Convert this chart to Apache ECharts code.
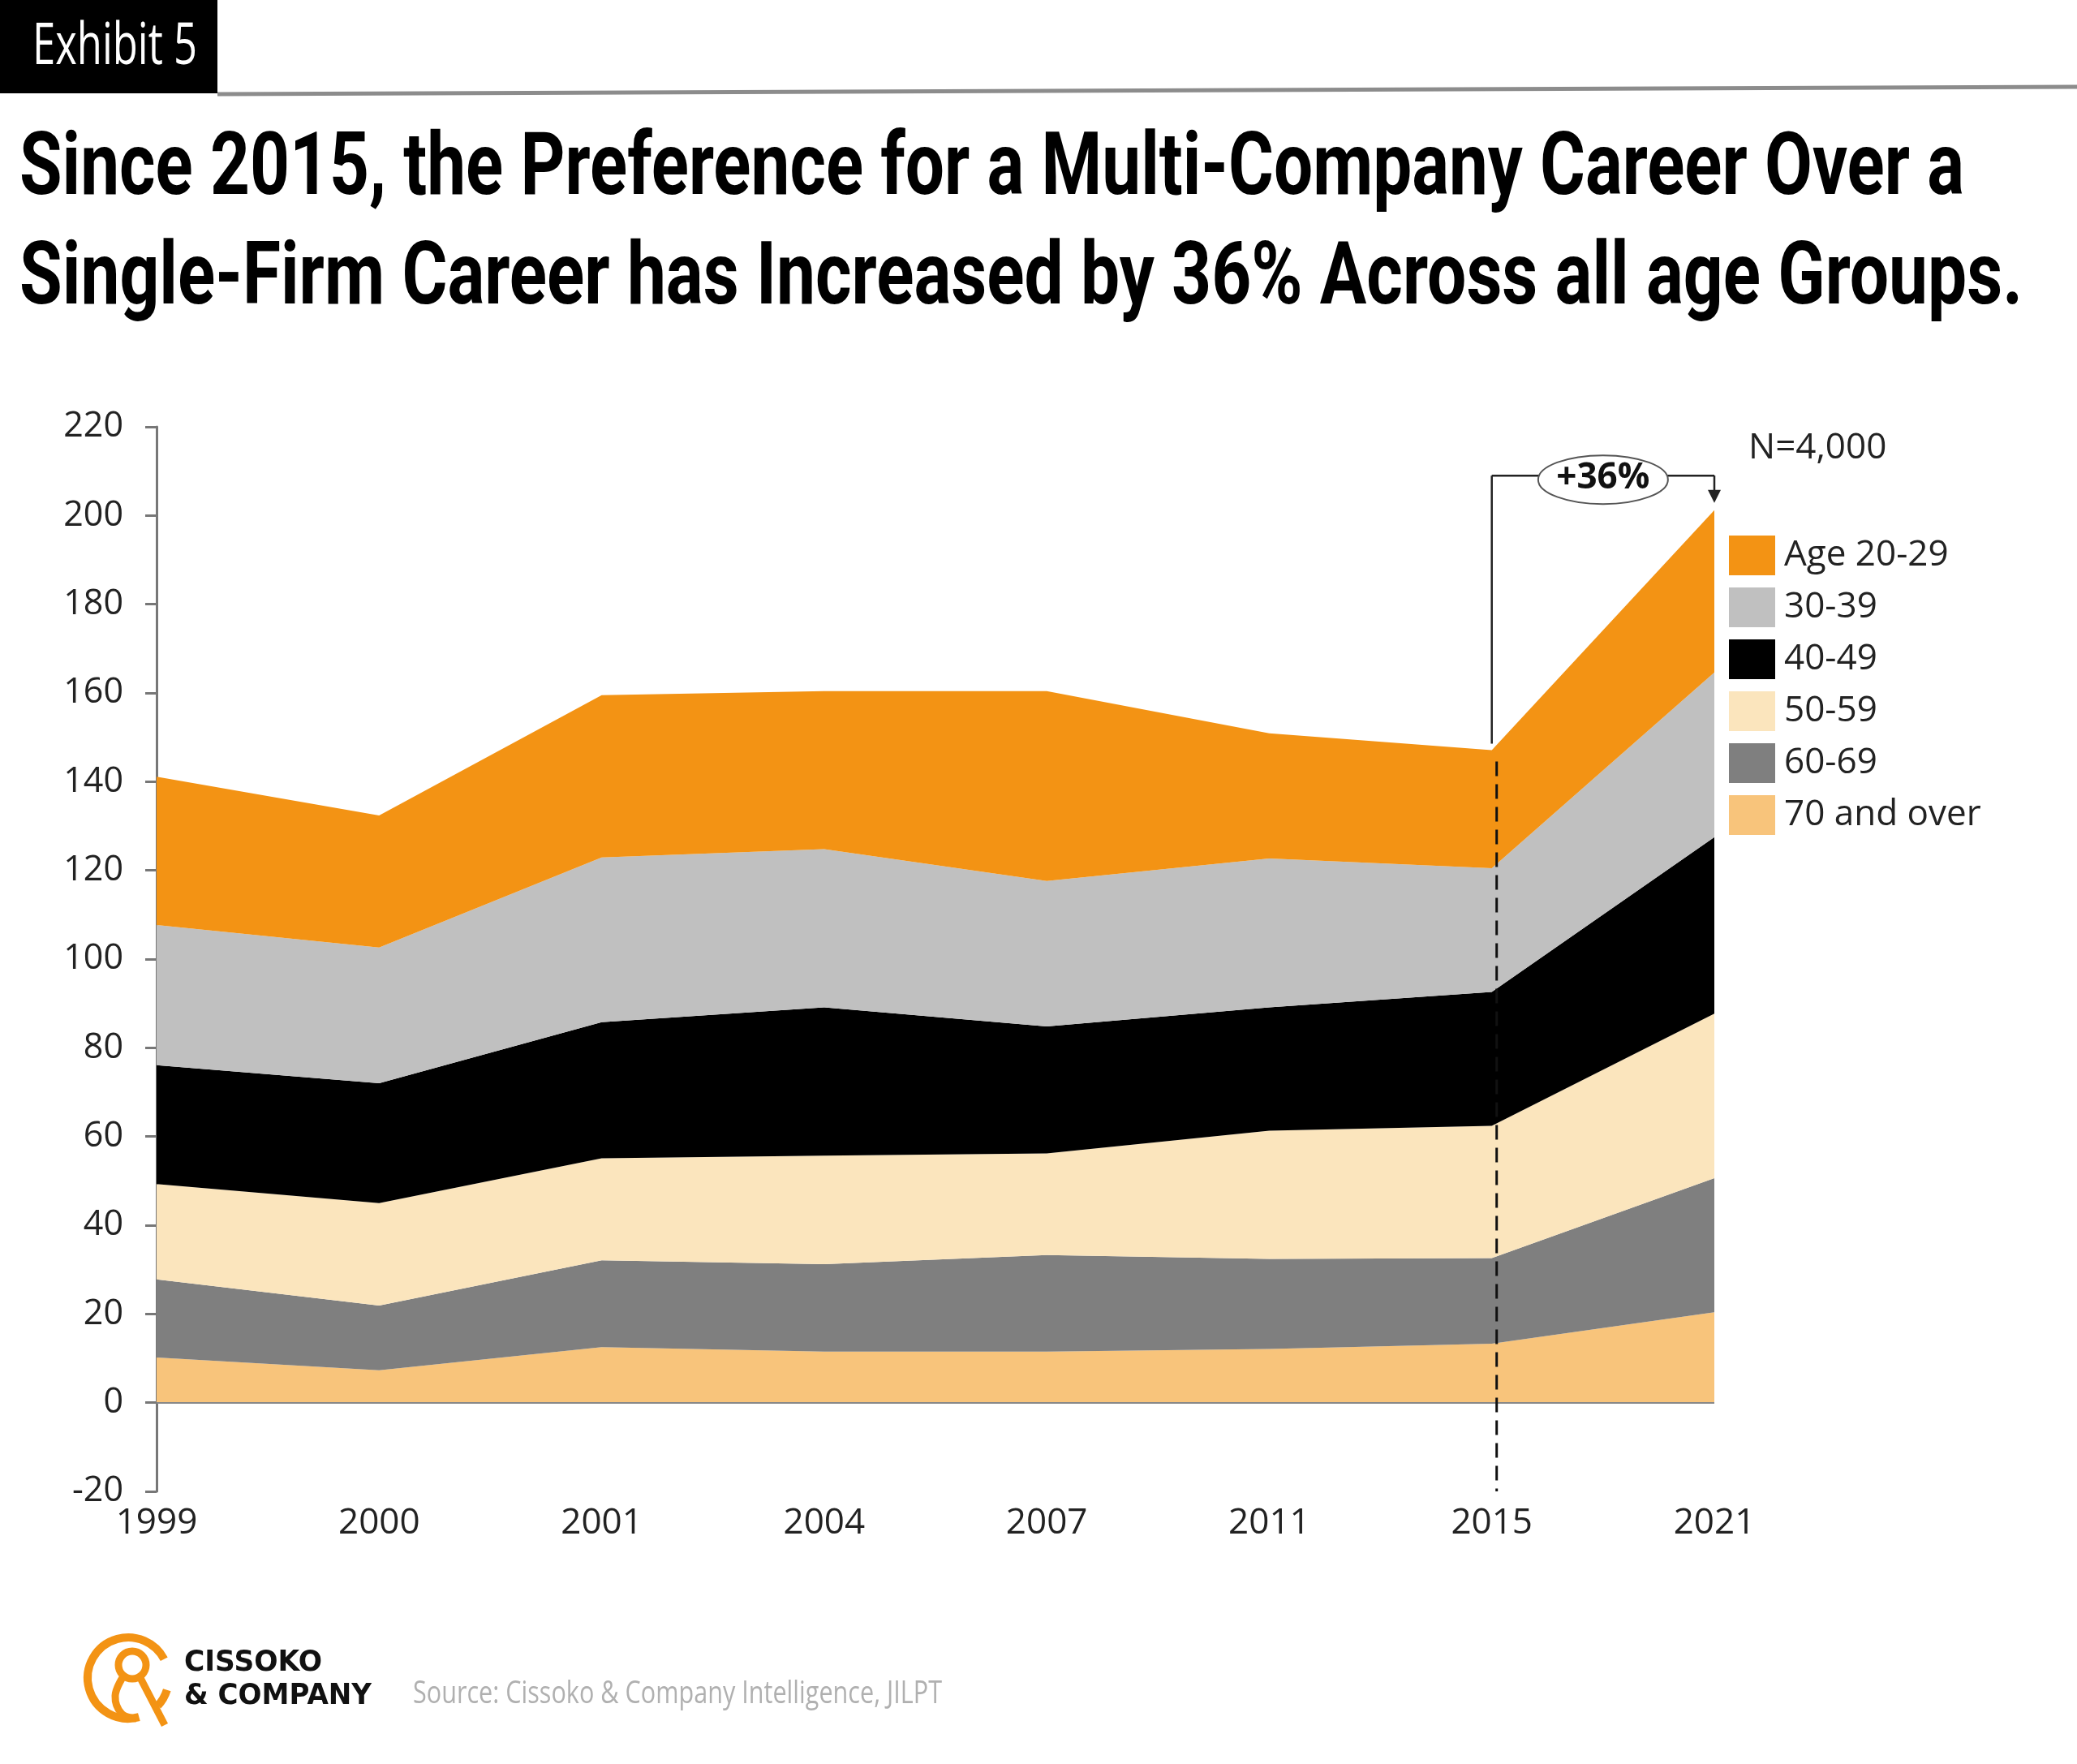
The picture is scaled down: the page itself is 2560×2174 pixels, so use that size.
<!DOCTYPE html>
<html>
<head>
<meta charset="utf-8">
<title>Exhibit 5</title>
<script src="https://cdn.jsdelivr.net/npm/echarts@6/dist/echarts.min.js"></script>
<style>
  html, body { margin: 0; padding: 0; background: #fff; }
  #chart { width: 2560px; height: 2174px; }
</style>
</head>
<body>
<div id="chart"></div>
<script>
// 数据
const years = ['1999', '2000', '2001', '2004', '2007', '2011', '2015', '2021']
const age70plus = [10.2, 7.3, 12.5, 11.5, 11.5, 12.1, 13.3, 20.4]
const age60_69 = [17.6, 14.6, 19.6, 19.7, 21.8, 20.3, 19.3, 30.2]
const age50_59 = [21.5, 23.1, 23.0, 24.5, 22.9, 28.9, 29.8, 37.1]
const age40_49 = [26.8, 27.0, 30.7, 33.4, 28.6, 27.8, 30.2, 39.8]
const age30_39 = [31.6, 30.6, 37.1, 35.7, 32.8, 33.6, 27.9, 37.1]
const age20_29 = [33.4, 29.8, 36.6, 35.6, 42.8, 28.2, 26.6, 36.6]
const yMin = -20
const yMax = 220
const yStep = 20
const bracketLevel = 209 // +36% 括号所在高度

// 系列，从下往上堆叠
const layers = [
  { name: '70 and over', data: age70plus, color: '#F8C47B' },
  { name: '60-69', data: age60_69, color: '#7F7F7F' },
  { name: '50-59', data: age50_59, color: '#FBE5BD' },
  { name: '40-49', data: age40_49, color: '#000000' },
  { name: '30-39', data: age30_39, color: '#C0C0C0' },
  { name: 'Age 20-29', data: age20_29, color: '#F39314' }
]

const axisFont = "'Open Sans', sans-serif"
const chart = echarts.init(document.getElementById('chart'), null, { renderer: 'canvas' })

const options = {
  animation: false,
  backgroundColor: '#fff',
  grid: { left: 193, top: 526, width: 1920, height: 1312 },
  legend: {
    orient: 'vertical',
    left: 2131,
    top: 660,
    padding: 0,
    icon: 'rect',
    itemWidth: 57,
    itemHeight: 49,
    itemGap: 15,
    selectedMode: false,
    textStyle: { fontSize: 44, color: '#222', fontFamily: axisFont, padding: [0, 0, 0, 6] },
    data: layers.map((l) => l.name).reverse()
  },
  xAxis: {
    type: 'category',
    boundaryGap: false,
    data: years,
    axisLine: { show: false },
    axisTick: { show: false },
    axisLabel: { fontSize: 44, color: '#222', margin: 17, fontFamily: axisFont }
  },
  yAxis: {
    type: 'value',
    min: yMin,
    max: yMax,
    interval: yStep,
    axisLine: { show: true, lineStyle: { color: '#777', width: 3 } },
    axisTick: { show: true, length: 14, lineStyle: { color: '#777', width: 3 } },
    axisLabel: { fontSize: 43, color: '#222', margin: 41, fontFamily: axisFont },
    splitLine: { show: false }
  },
  series: layers.map((l, idx) => ({
    type: 'line',
    name: l.name,
    stack: 'total',
    data: l.data,
    symbol: 'none',
    color: l.color,
    lineStyle: { width: 0 },
    areaStyle: { color: l.color, opacity: 1 },
    emphasis: { disabled: true },
    // 0 基线
    markLine: idx === 0 ? {
      silent: true,
      symbol: 'none',
      label: { show: false },
      lineStyle: { color: '#888', width: 2, type: 'solid' },
      data: [{ yAxis: 0 }]
    } : undefined
  }))
}
chart.setOption(options)

// 文本宽度，用于压缩字体
const measureCtx = document.createElement('canvas').getContext('2d')
function fitScale(text, font, width) {
  measureCtx.font = font
  return width / measureCtx.measureText(text).width
}

function textEl(text, x, y, font, color, width) {
  return {
    type: 'text',
    x: x,
    y: y,
    scaleX: width ? fitScale(text, font, width) : 1,
    silent: true,
    style: { text: text, font: font, fill: color, align: 'left', verticalAlign: 'middle' }
  }
}

// 注释位置由坐标轴换算
const totals = years.map((y, i) => layers.reduce((s, l) => s + l.data[i], 0))
const i15 = years.indexOf('2015')
const i21 = years.indexOf('2021')
const [x15, yTop15] = chart.convertToPixel({ gridIndex: 0 }, [i15, totals[i15]])
const [x21, yTop21] = chart.convertToPixel({ gridIndex: 0 }, [i21, totals[i21]])
const yBracket = chart.convertToPixel({ gridIndex: 0 }, [i15, bracketLevel])[1]
const yBottom = chart.convertToPixel({ gridIndex: 0 }, [i15, yMin])[1]
const midX = (x15 + x21) / 2

const titleFont = "bold 108px 'Liberation Sans Narrow', Roboto, sans-serif"
const lightFont = "72px 'Liberation Sans Narrow', 'Open Sans', sans-serif"
const sourceFont = "38px 'Liberation Sans Narrow', 'Open Sans', sans-serif"
const logoFont = "bold 35px 'DejaVu Sans', sans-serif"
const lineStyle = { stroke: '#222', lineWidth: 2.5 }

const graphics = [
  // 顶部标签
  { type: 'rect', shape: { x: 0, y: 0, width: 268, height: 115 }, style: { fill: '#000' } },
  textEl('Exhibit 5', 40, 58, lightFont, '#fff', 203),
  { type: 'line', shape: { x1: 268, y1: 116, x2: 2560, y2: 107 }, style: { stroke: '#8c8c8c', lineWidth: 5 } },
  // 标题
  textEl('Since 2015, the Preference for a Multi-Company Career Over a', 24, 212, titleFont, '#000', 2397),
  textEl('Single-Firm Career has Increased by 36% Across all age Groups.', 24, 347, titleFont, '#000', 2469),
  // 样本量
  textEl('N=4,000', 2155, 552, "44px 'Open Sans', sans-serif", '#222'),
  // 2015 虚线
  { type: 'line', shape: { x1: x15 + 6, y1: yTop15 + 14, x2: x15 + 6, y2: yBottom }, style: { stroke: '#111', lineWidth: 3, lineDash: [18, 10] } },
  // 括号
  { type: 'line', shape: { x1: x15, y1: yBracket, x2: x15, y2: yTop15 - 8 }, style: lineStyle },
  { type: 'line', shape: { x1: x15, y1: yBracket, x2: x21, y2: yBracket }, style: lineStyle },
  { type: 'line', shape: { x1: x21, y1: yBracket, x2: x21, y2: yTop21 - 22 }, style: lineStyle },
  { type: 'polygon', shape: { points: [[x21 - 8, yTop21 - 25], [x21 + 8, yTop21 - 25], [x21, yTop21 - 9]] }, style: { fill: '#222' } },
  { type: 'ellipse', shape: { cx: midX, cy: yBracket + 5, rx: 80, ry: 30 }, style: { fill: '#fff', stroke: '#555', lineWidth: 2 } },
  { type: 'text', x: midX, y: yBracket + 3, style: { text: '+36%', font: "bold 44px 'Open Sans', sans-serif", fill: '#111', align: 'center', verticalAlign: 'middle' } },
  // 标志
  { type: 'arc', shape: { cx: 158, cy: 2068, r: 50, startAngle: 1.3, endAngle: 5.8 }, style: { stroke: '#F39314', lineWidth: 10, fill: null } },
  { type: 'arc', shape: { cx: 158, cy: 2068, r: 50, startAngle: 0.3, endAngle: 0.75 }, style: { stroke: '#F39314', lineWidth: 10, fill: null } },
  { type: 'circle', shape: { cx: 163, cy: 2052, r: 17 }, style: { stroke: '#F39314', lineWidth: 9, fill: null } },
  { type: 'polyline', shape: { points: [[152, 2066], [142, 2090], [150, 2112], [168, 2118]], smooth: 0.4 }, style: { stroke: '#F39314', lineWidth: 9, fill: null } },
  { type: 'line', shape: { x1: 172, y1: 2066, x2: 203, y2: 2126 }, style: { stroke: '#F39314', lineWidth: 9 } },
  textEl('CISSOKO', 227, 2050, logoFont, '#111', 170),
  textEl('& COMPANY', 227, 2091, logoFont, '#111', 231),
  // 来源
  textEl('Source: Cissoko & Company Intelligence, JILPT', 509, 2088, sourceFont, '#b0b0b0', 652)
]

// 注释画在面积图上方
chart.setOption({
  graphic: graphics.map((g, i) => Object.assign({ z: 100 + i, silent: true }, g))
})
</script>
</body>
</html>
